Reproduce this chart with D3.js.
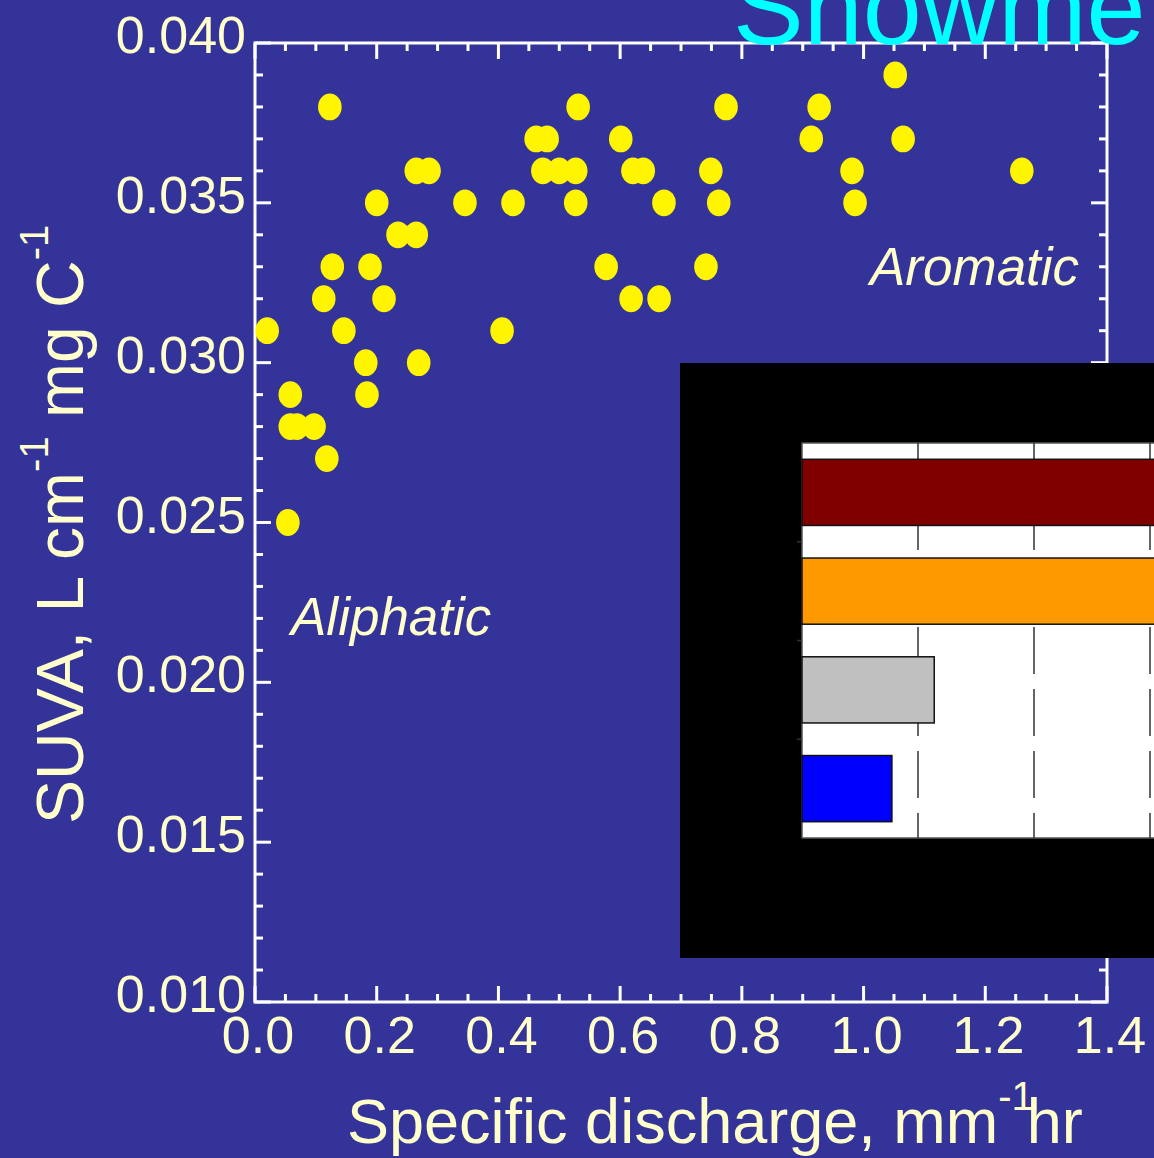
<!DOCTYPE html>
<html><head><meta charset="utf-8">
<script src="https://cdn.jsdelivr.net/npm/d3@7"></script>
<style>html,body{margin:0;padding:0;background:#333399;overflow:hidden}</style>
</head><body>
<svg id="c" width="1154" height="1158" xmlns="http://www.w3.org/2000/svg"></svg>
<script>
// ---------- data ----------
const chartTitle = "Snowme";
const xTitleMain = "Specific discharge, mm";
const xTitleSup = "-1";
const xTitleTail = "hr";
const yTitleParts = ["SUVA, L cm", "-1", " mg C", "-1"];
const annotations = ["Aromatic", "Aliphatic"];

const dischargeValues = [0.020,0.054,0.058,0.058,0.069,0.097,0.113,0.118,0.123,0.127,0.146,0.182,0.184,0.189,0.200,0.212,0.235,0.265,0.265,0.269,0.286,0.345,0.406,0.424,0.462,0.480,0.473,0.500,0.527,0.531,0.527,0.577,0.601,0.618,0.621,0.638,0.664,0.672,0.741,0.749,0.762,0.774,0.914,0.927,0.981,0.986,1.052,1.065,1.260];
const suvaValues      = [0.031,0.025,0.029,0.028,0.028,0.028,0.032,0.027,0.038,0.033,0.031,0.030,0.029,0.033,0.035,0.032,0.034,0.034,0.036,0.030,0.036,0.035,0.031,0.035,0.037,0.037,0.036,0.036,0.036,0.038,0.035,0.033,0.037,0.032,0.036,0.036,0.032,0.035,0.033,0.036,0.035,0.038,0.037,0.038,0.036,0.035,0.039,0.037,0.036];

const xTickValues = [0.0,0.2,0.4,0.6,0.8,1.0,1.2,1.4];
const xTickLabels = ["0.0","0.2","0.4","0.6","0.8","1.0","1.2","1.4"];
const yTickValues = [0.010,0.015,0.020,0.025,0.030,0.035,0.040];
const yTickLabels = ["0.010","0.015","0.020","0.025","0.030","0.035","0.040"];
const xMinorStep = 0.05;
const yMinorStep = 0.001;

// inset bar chart (partially visible)
const insetCategories = ["Group 1","Group 2","Group 3","Group 4"];
const insetValues = [80, 75, 22.8, 15.5];
const insetColors = ["#800000","#FF9900","#C0C0C0","#0000FF"];
const insetGridValues = [20, 40, 60];

// ---------- drawing ----------
const svg = d3.select("#c");
const FONT = "'Liberation Sans', Arial, Helvetica, sans-serif";
const LABEL = "#FFFFCC";
svg.append("rect").attr("width",1154).attr("height",1158).attr("fill","#333399");

const x = d3.scaleLinear().domain([0,1.4]).range([255,1107]);
const y = d3.scaleLinear().domain([0.010,0.040]).range([1002,43]);
const [x0,x1] = x.range(); const [y0,y1] = y.range();

const isMult = (v,s) => Math.abs(v/s - Math.round(v/s)) < 1e-6;

const axes = svg.append("g").attr("stroke","#fff").attr("stroke-width",3);
// x ticks (bottom & top), inward
d3.range(0, 1.4 + 1e-9, xMinorStep).forEach(v => {
  const len = isMult(v,0.2) ? 16 : 8;
  axes.append("line").attr("x1",x(v)).attr("x2",x(v)).attr("y1",y0).attr("y2",y0-len);
  axes.append("line").attr("x1",x(v)).attr("x2",x(v)).attr("y1",y1).attr("y2",y1+len);
});
// y ticks (left & right), inward
d3.range(0.010, 0.040 + 1e-9, yMinorStep).forEach(v => {
  const len = isMult(v,0.005) ? 16 : 8;
  axes.append("line").attr("y1",y(v)).attr("y2",y(v)).attr("x1",x0).attr("x2",x0+len);
  axes.append("line").attr("y1",y(v)).attr("y2",y(v)).attr("x1",x1).attr("x2",x1-len);
});
axes.append("rect").attr("x",x0).attr("y",y1).attr("width",x1-x0).attr("height",y0-y1).attr("fill","none");

// tick labels
svg.append("g").selectAll("text").data(xTickValues).join("text")
  .attr("x",d=>x(d)+3).attr("y",y0+51).attr("text-anchor","middle")
  .attr("font-family",FONT).attr("font-size",52).attr("fill",LABEL)
  .text((d,i)=>xTickLabels[i]);
svg.append("g").selectAll("text").data(yTickValues).join("text")
  .attr("x",x0-9).attr("y",d=>y(d)+10).attr("text-anchor","end")
  .attr("font-family",FONT).attr("font-size",52).attr("fill",LABEL)
  .text((d,i)=>yTickLabels[i]);

// axis titles
const xt = svg.append("text").attr("x",347).attr("y",1143)
  .attr("font-family",FONT).attr("font-size",63).attr("fill",LABEL);
xt.append("tspan").text(xTitleMain);
xt.append("tspan").attr("font-size",40).attr("dy",-33).text(xTitleSup);
xt.append("tspan").attr("dx",-7).attr("dy",33).text(xTitleTail);

const yt = svg.append("text").attr("transform","translate(83,824) rotate(-90)")
  .attr("font-family",FONT).attr("font-size",66).attr("fill",LABEL);
yt.append("tspan").text(yTitleParts[0]);
yt.append("tspan").attr("font-size",40).attr("dy",-35).text(yTitleParts[1]);
yt.append("tspan").attr("dy",35).text(yTitleParts[2]);
yt.append("tspan").attr("font-size",40).attr("dy",-35).text(yTitleParts[3]);

// annotations
svg.append("text").attr("x",870).attr("y",285).attr("font-family",FONT)
  .attr("font-style","italic").attr("font-size",53).attr("fill",LABEL).text(annotations[0]);
svg.append("text").attr("x",291).attr("y",635).attr("font-family",FONT)
  .attr("font-style","italic").attr("font-size",53).attr("fill",LABEL).text(annotations[1]);

// scatter points
svg.append("g").selectAll("ellipse").data(dischargeValues).join("ellipse")
  .attr("cx",d=>x(d)).attr("cy",(d,i)=>y(suvaValues[i]))
  .attr("rx",11.8).attr("ry",13.4).attr("fill","#FFF500");

// inset
const inset = svg.append("g");
inset.append("rect").attr("x",680).attr("y",363).attr("width",480).attr("height",595).attr("fill","#000");
const ix = d3.scaleLinear().domain([0,100]).range([802,1382]);
const iy = d3.scaleBand().domain(insetCategories).range([443,838]).paddingInner(0.33).paddingOuter(0.165);
inset.append("rect").attr("x",ix(0)).attr("y",443).attr("width",400).attr("height",395)
  .attr("fill","#fff").attr("stroke","#555").attr("stroke-width",1.5);
inset.append("g").selectAll("line").data(insetGridValues).join("line")
  .attr("x1",d=>ix(d)).attr("x2",d=>ix(d)).attr("y1",443).attr("y2",838)
  .attr("stroke","#333").attr("stroke-width",1.5).attr("stroke-dasharray","47,15").attr("stroke-dashoffset",2);
inset.append("g").selectAll("line").data(insetCategories.slice(1)).join("line")
  .attr("x1",ix(0)-5).attr("x2",ix(0)).attr("y1",d=>iy(d)-iy.step()*iy.paddingInner()/2)
  .attr("y2",d=>iy(d)-iy.step()*iy.paddingInner()/2).attr("stroke","#333").attr("stroke-width",1.5);
inset.append("g").selectAll("rect").data(insetValues).join("rect")
  .attr("x",ix(0)).attr("y",(d,i)=>iy(insetCategories[i])).attr("height",iy.bandwidth())
  .attr("width",d=>ix(d)-ix(0)).attr("fill",(d,i)=>insetColors[i])
  .attr("stroke","#111").attr("stroke-width",1.5);

// title
svg.append("text").attr("x",733).attr("y",44).attr("font-family",FONT)
  .attr("font-size",106).attr("fill","#00FFFF").text(chartTitle);
</script>
</body></html>
